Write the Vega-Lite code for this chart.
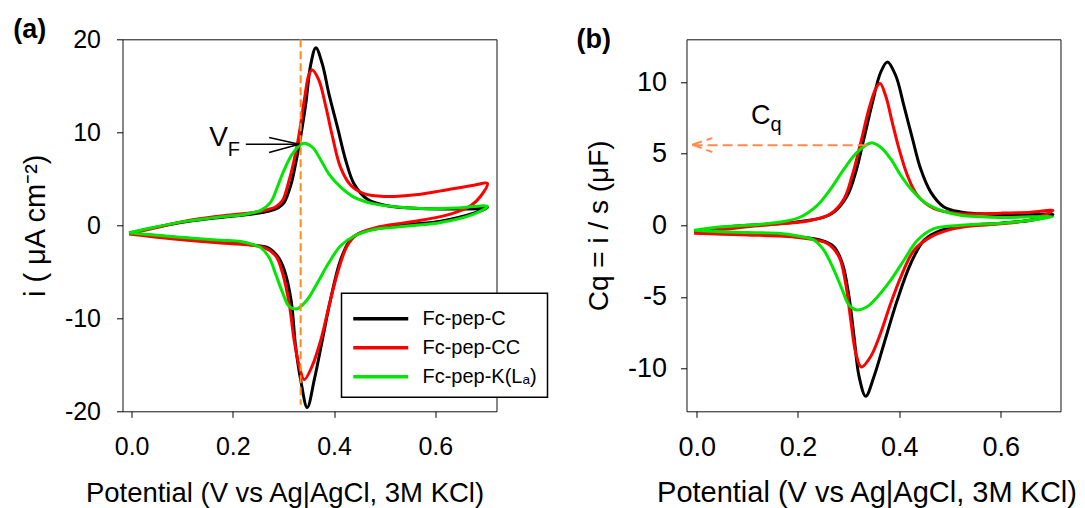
{
  "$schema": "https://vega.github.io/schema/vega-lite/v6.json",
  "background": "white",
  "padding": {"top": 15.3, "left": 12.5, "right": 5, "bottom": 5},
  "config": {
    "view": {"stroke": "#111", "strokeWidth": 1},
    "font": "Liberation Sans",
    "axis": {"domain": false, "grid": false, "tickColor": "black", "tickSize": 6, "tickWidth": 1, "labelColor": "black", "titleColor": "black", "labelFont": "Liberation Sans", "titleFont": "Liberation Sans", "titleFontWeight": "normal", "labelExpr": "replace(datum.label, '−', '-')"}
  },
  "datasets": {
    "a": [
      {"s":"Fc-pep-C","i":0,"x":-0.005,"y":-0.85},{"s":"Fc-pep-C","i":1,"x":0.045,"y":-0.25},{"s":"Fc-pep-C","i":2,"x":0.11,"y":0.4},{"s":"Fc-pep-C","i":3,"x":0.176,"y":0.85},{"s":"Fc-pep-C","i":4,"x":0.236,"y":1.2},{"s":"Fc-pep-C","i":5,"x":0.27,"y":1.5},{"s":"Fc-pep-C","i":6,"x":0.29,"y":1.9},{"s":"Fc-pep-C","i":7,"x":0.301,"y":2.4},{"s":"Fc-pep-C","i":8,"x":0.315,"y":4.4},{"s":"Fc-pep-C","i":9,"x":0.324,"y":6.6},{"s":"Fc-pep-C","i":10,"x":0.334,"y":9.5},{"s":"Fc-pep-C","i":11,"x":0.344,"y":13.0},{"s":"Fc-pep-C","i":12,"x":0.354,"y":17.3},{"s":"Fc-pep-C","i":13,"x":0.364,"y":19.1},{"s":"Fc-pep-C","i":14,"x":0.377,"y":17.3},{"s":"Fc-pep-C","i":15,"x":0.39,"y":14.1},{"s":"Fc-pep-C","i":16,"x":0.407,"y":10.5},{"s":"Fc-pep-C","i":17,"x":0.423,"y":7.0},{"s":"Fc-pep-C","i":18,"x":0.44,"y":4.4},{"s":"Fc-pep-C","i":19,"x":0.466,"y":2.8},{"s":"Fc-pep-C","i":20,"x":0.505,"y":2.1},{"s":"Fc-pep-C","i":21,"x":0.571,"y":1.8},{"s":"Fc-pep-C","i":22,"x":0.64,"y":1.75},{"s":"Fc-pep-C","i":23,"x":0.69,"y":1.8},{"s":"Fc-pep-C","i":24,"x":0.703,"y":1.9},{"s":"Fc-pep-C","i":25,"x":0.676,"y":1.3},{"s":"Fc-pep-C","i":26,"x":0.611,"y":0.45},{"s":"Fc-pep-C","i":27,"x":0.55,"y":0.1},{"s":"Fc-pep-C","i":28,"x":0.512,"y":-0.15},{"s":"Fc-pep-C","i":29,"x":0.475,"y":-0.45},{"s":"Fc-pep-C","i":30,"x":0.453,"y":-0.8},{"s":"Fc-pep-C","i":31,"x":0.433,"y":-1.5},{"s":"Fc-pep-C","i":32,"x":0.413,"y":-3.7},{"s":"Fc-pep-C","i":33,"x":0.393,"y":-8.0},{"s":"Fc-pep-C","i":34,"x":0.377,"y":-12.3},{"s":"Fc-pep-C","i":35,"x":0.361,"y":-16.6},{"s":"Fc-pep-C","i":36,"x":0.347,"y":-19.6},{"s":"Fc-pep-C","i":37,"x":0.334,"y":-16.6},{"s":"Fc-pep-C","i":38,"x":0.324,"y":-13.0},{"s":"Fc-pep-C","i":39,"x":0.315,"y":-8.0},{"s":"Fc-pep-C","i":40,"x":0.301,"y":-4.7},{"s":"Fc-pep-C","i":41,"x":0.288,"y":-3.3},{"s":"Fc-pep-C","i":42,"x":0.269,"y":-2.4},{"s":"Fc-pep-C","i":43,"x":0.236,"y":-2.1},{"s":"Fc-pep-C","i":44,"x":0.176,"y":-1.75},{"s":"Fc-pep-C","i":45,"x":0.11,"y":-1.4},{"s":"Fc-pep-C","i":46,"x":0.045,"y":-1.1},{"s":"Fc-pep-C","i":47,"x":-0.005,"y":-0.85},
      {"s":"Fc-pep-CC","i":0,"x":-0.005,"y":-0.95},{"s":"Fc-pep-CC","i":1,"x":0.045,"y":-0.3},{"s":"Fc-pep-CC","i":2,"x":0.11,"y":0.5},{"s":"Fc-pep-CC","i":3,"x":0.176,"y":1.0},{"s":"Fc-pep-CC","i":4,"x":0.236,"y":1.35},{"s":"Fc-pep-CC","i":5,"x":0.27,"y":1.7},{"s":"Fc-pep-CC","i":6,"x":0.285,"y":2.0},{"s":"Fc-pep-CC","i":7,"x":0.298,"y":2.65},{"s":"Fc-pep-CC","i":8,"x":0.311,"y":4.8},{"s":"Fc-pep-CC","i":9,"x":0.321,"y":7.0},{"s":"Fc-pep-CC","i":10,"x":0.331,"y":9.8},{"s":"Fc-pep-CC","i":11,"x":0.341,"y":13.4},{"s":"Fc-pep-CC","i":12,"x":0.351,"y":16.3},{"s":"Fc-pep-CC","i":13,"x":0.357,"y":16.7},{"s":"Fc-pep-CC","i":14,"x":0.37,"y":15.6},{"s":"Fc-pep-CC","i":15,"x":0.384,"y":12.7},{"s":"Fc-pep-CC","i":16,"x":0.397,"y":9.5},{"s":"Fc-pep-CC","i":17,"x":0.413,"y":6.2},{"s":"Fc-pep-CC","i":18,"x":0.433,"y":4.3},{"s":"Fc-pep-CC","i":19,"x":0.459,"y":3.4},{"s":"Fc-pep-CC","i":20,"x":0.499,"y":3.1},{"s":"Fc-pep-CC","i":21,"x":0.571,"y":3.35},{"s":"Fc-pep-CC","i":22,"x":0.611,"y":3.7},{"s":"Fc-pep-CC","i":23,"x":0.676,"y":4.3},{"s":"Fc-pep-CC","i":24,"x":0.703,"y":4.5},{"s":"Fc-pep-CC","i":25,"x":0.69,"y":3.15},{"s":"Fc-pep-CC","i":26,"x":0.67,"y":2.1},{"s":"Fc-pep-CC","i":27,"x":0.63,"y":1.2},{"s":"Fc-pep-CC","i":28,"x":0.578,"y":0.6},{"s":"Fc-pep-CC","i":29,"x":0.512,"y":0.05},{"s":"Fc-pep-CC","i":30,"x":0.479,"y":-0.3},{"s":"Fc-pep-CC","i":31,"x":0.446,"y":-0.97},{"s":"Fc-pep-CC","i":32,"x":0.426,"y":-2.2},{"s":"Fc-pep-CC","i":33,"x":0.407,"y":-5.1},{"s":"Fc-pep-CC","i":34,"x":0.39,"y":-8.7},{"s":"Fc-pep-CC","i":35,"x":0.374,"y":-12.3},{"s":"Fc-pep-CC","i":36,"x":0.357,"y":-15.1},{"s":"Fc-pep-CC","i":37,"x":0.341,"y":-16.6},{"s":"Fc-pep-CC","i":38,"x":0.331,"y":-15.1},{"s":"Fc-pep-CC","i":39,"x":0.321,"y":-12.3},{"s":"Fc-pep-CC","i":40,"x":0.311,"y":-8.3},{"s":"Fc-pep-CC","i":41,"x":0.298,"y":-5.1},{"s":"Fc-pep-CC","i":42,"x":0.285,"y":-3.3},{"s":"Fc-pep-CC","i":43,"x":0.262,"y":-2.4},{"s":"Fc-pep-CC","i":44,"x":0.216,"y":-2.05},{"s":"Fc-pep-CC","i":45,"x":0.176,"y":-1.9},{"s":"Fc-pep-CC","i":46,"x":0.11,"y":-1.6},{"s":"Fc-pep-CC","i":47,"x":0.045,"y":-1.25},{"s":"Fc-pep-CC","i":48,"x":-0.005,"y":-0.95},
      {"s":"Fc-pep-K(Lₐ)","i":0,"x":-0.005,"y":-0.8},{"s":"Fc-pep-K(Lₐ)","i":1,"x":0.045,"y":-0.2},{"s":"Fc-pep-K(Lₐ)","i":2,"x":0.11,"y":0.45},{"s":"Fc-pep-K(Lₐ)","i":3,"x":0.176,"y":0.9},{"s":"Fc-pep-K(Lₐ)","i":4,"x":0.216,"y":1.1},{"s":"Fc-pep-K(Lₐ)","i":5,"x":0.24,"y":1.35},{"s":"Fc-pep-K(Lₐ)","i":6,"x":0.255,"y":1.6},{"s":"Fc-pep-K(Lₐ)","i":7,"x":0.275,"y":2.5},{"s":"Fc-pep-K(Lₐ)","i":8,"x":0.288,"y":4.1},{"s":"Fc-pep-K(Lₐ)","i":9,"x":0.301,"y":5.9},{"s":"Fc-pep-K(Lₐ)","i":10,"x":0.318,"y":7.7},{"s":"Fc-pep-K(Lₐ)","i":11,"x":0.338,"y":8.8},{"s":"Fc-pep-K(Lₐ)","i":12,"x":0.357,"y":8.4},{"s":"Fc-pep-K(Lₐ)","i":13,"x":0.374,"y":7.0},{"s":"Fc-pep-K(Lₐ)","i":14,"x":0.39,"y":5.5},{"s":"Fc-pep-K(Lₐ)","i":15,"x":0.413,"y":4.1},{"s":"Fc-pep-K(Lₐ)","i":16,"x":0.44,"y":3.0},{"s":"Fc-pep-K(Lₐ)","i":17,"x":0.479,"y":2.3},{"s":"Fc-pep-K(Lₐ)","i":18,"x":0.532,"y":1.94},{"s":"Fc-pep-K(Lₐ)","i":19,"x":0.571,"y":1.8},{"s":"Fc-pep-K(Lₐ)","i":20,"x":0.64,"y":1.85},{"s":"Fc-pep-K(Lₐ)","i":21,"x":0.703,"y":2.05},{"s":"Fc-pep-K(Lₐ)","i":22,"x":0.676,"y":1.2},{"s":"Fc-pep-K(Lₐ)","i":23,"x":0.611,"y":0.3},{"s":"Fc-pep-K(Lₐ)","i":24,"x":0.55,"y":-0.05},{"s":"Fc-pep-K(Lₐ)","i":25,"x":0.512,"y":-0.25},{"s":"Fc-pep-K(Lₐ)","i":26,"x":0.479,"y":-0.45},{"s":"Fc-pep-K(Lₐ)","i":27,"x":0.44,"y":-1.15},{"s":"Fc-pep-K(Lₐ)","i":28,"x":0.413,"y":-2.2},{"s":"Fc-pep-K(Lₐ)","i":29,"x":0.39,"y":-4.0},{"s":"Fc-pep-K(Lₐ)","i":30,"x":0.367,"y":-6.2},{"s":"Fc-pep-K(Lₐ)","i":31,"x":0.347,"y":-8.0},{"s":"Fc-pep-K(Lₐ)","i":32,"x":0.326,"y":-9.0},{"s":"Fc-pep-K(Lₐ)","i":33,"x":0.311,"y":-8.7},{"s":"Fc-pep-K(Lₐ)","i":34,"x":0.298,"y":-7.2},{"s":"Fc-pep-K(Lₐ)","i":35,"x":0.285,"y":-5.3},{"s":"Fc-pep-K(Lₐ)","i":36,"x":0.272,"y":-3.5},{"s":"Fc-pep-K(Lₐ)","i":37,"x":0.255,"y":-2.4},{"s":"Fc-pep-K(Lₐ)","i":38,"x":0.236,"y":-2.0},{"s":"Fc-pep-K(Lₐ)","i":39,"x":0.216,"y":-1.75},{"s":"Fc-pep-K(Lₐ)","i":40,"x":0.176,"y":-1.6},{"s":"Fc-pep-K(Lₐ)","i":41,"x":0.11,"y":-1.35},{"s":"Fc-pep-K(Lₐ)","i":42,"x":0.045,"y":-1.05},{"s":"Fc-pep-K(Lₐ)","i":43,"x":-0.005,"y":-0.8}
    ],
    "b": [
      {"s":"Fc-pep-C","i":0,"x":-0.005,"y":-0.4},{"s":"Fc-pep-C","i":1,"x":0.05,"y":-0.15},{"s":"Fc-pep-C","i":2,"x":0.1,"y":0.0},{"s":"Fc-pep-C","i":3,"x":0.166,"y":0.12},{"s":"Fc-pep-C","i":4,"x":0.212,"y":0.3},{"s":"Fc-pep-C","i":5,"x":0.25,"y":0.55},{"s":"Fc-pep-C","i":6,"x":0.271,"y":0.93},{"s":"Fc-pep-C","i":7,"x":0.2975,"y":2.09},{"s":"Fc-pep-C","i":8,"x":0.314,"y":3.72},{"s":"Fc-pep-C","i":9,"x":0.33,"y":6.04},{"s":"Fc-pep-C","i":10,"x":0.347,"y":8.59},{"s":"Fc-pep-C","i":11,"x":0.363,"y":10.68},{"s":"Fc-pep-C","i":12,"x":0.3765,"y":11.42},{"s":"Fc-pep-C","i":13,"x":0.393,"y":10.45},{"s":"Fc-pep-C","i":14,"x":0.409,"y":8.36},{"s":"Fc-pep-C","i":15,"x":0.426,"y":6.04},{"s":"Fc-pep-C","i":16,"x":0.442,"y":3.95},{"s":"Fc-pep-C","i":17,"x":0.462,"y":2.32},{"s":"Fc-pep-C","i":18,"x":0.488,"y":1.28},{"s":"Fc-pep-C","i":19,"x":0.521,"y":0.93},{"s":"Fc-pep-C","i":20,"x":0.56,"y":0.8},{"s":"Fc-pep-C","i":21,"x":0.63,"y":0.72},{"s":"Fc-pep-C","i":22,"x":0.703,"y":0.75},{"s":"Fc-pep-C","i":23,"x":0.66,"y":0.35},{"s":"Fc-pep-C","i":24,"x":0.6,"y":0.15},{"s":"Fc-pep-C","i":25,"x":0.541,"y":0.0},{"s":"Fc-pep-C","i":26,"x":0.505,"y":-0.2},{"s":"Fc-pep-C","i":27,"x":0.482,"y":-0.35},{"s":"Fc-pep-C","i":28,"x":0.449,"y":-1.04},{"s":"Fc-pep-C","i":29,"x":0.4225,"y":-2.67},{"s":"Fc-pep-C","i":30,"x":0.396,"y":-5.22},{"s":"Fc-pep-C","i":31,"x":0.37,"y":-8.24},{"s":"Fc-pep-C","i":32,"x":0.35,"y":-10.56},{"s":"Fc-pep-C","i":33,"x":0.3337,"y":-11.95},{"s":"Fc-pep-C","i":34,"x":0.3205,"y":-10.56},{"s":"Fc-pep-C","i":35,"x":0.3106,"y":-7.77},{"s":"Fc-pep-C","i":36,"x":0.3007,"y":-4.99},{"s":"Fc-pep-C","i":37,"x":0.2876,"y":-2.67},{"s":"Fc-pep-C","i":38,"x":0.271,"y":-1.5},{"s":"Fc-pep-C","i":39,"x":0.245,"y":-1.04},{"s":"Fc-pep-C","i":40,"x":0.2,"y":-0.8},{"s":"Fc-pep-C","i":41,"x":0.166,"y":-0.7},{"s":"Fc-pep-C","i":42,"x":0.1,"y":-0.6},{"s":"Fc-pep-C","i":43,"x":0.05,"y":-0.55},{"s":"Fc-pep-C","i":44,"x":-0.005,"y":-0.4},
      {"s":"Fc-pep-CC","i":0,"x":-0.005,"y":-0.55},{"s":"Fc-pep-CC","i":1,"x":0.05,"y":-0.3},{"s":"Fc-pep-CC","i":2,"x":0.1,"y":-0.1},{"s":"Fc-pep-CC","i":3,"x":0.166,"y":0.1},{"s":"Fc-pep-CC","i":4,"x":0.21,"y":0.25},{"s":"Fc-pep-CC","i":5,"x":0.232,"y":0.4},{"s":"Fc-pep-CC","i":6,"x":0.2646,"y":0.81},{"s":"Fc-pep-CC","i":7,"x":0.291,"y":1.86},{"s":"Fc-pep-CC","i":8,"x":0.307,"y":3.48},{"s":"Fc-pep-CC","i":9,"x":0.324,"y":5.8},{"s":"Fc-pep-CC","i":10,"x":0.34,"y":8.13},{"s":"Fc-pep-CC","i":11,"x":0.353,"y":9.52},{"s":"Fc-pep-CC","i":12,"x":0.362,"y":9.92},{"s":"Fc-pep-CC","i":13,"x":0.373,"y":9.05},{"s":"Fc-pep-CC","i":14,"x":0.386,"y":7.2},{"s":"Fc-pep-CC","i":15,"x":0.3994,"y":5.34},{"s":"Fc-pep-CC","i":16,"x":0.416,"y":3.48},{"s":"Fc-pep-CC","i":17,"x":0.4357,"y":2.09},{"s":"Fc-pep-CC","i":18,"x":0.4685,"y":1.16},{"s":"Fc-pep-CC","i":19,"x":0.521,"y":0.81},{"s":"Fc-pep-CC","i":20,"x":0.6,"y":0.85},{"s":"Fc-pep-CC","i":21,"x":0.66,"y":0.92},{"s":"Fc-pep-CC","i":22,"x":0.703,"y":1.04},{"s":"Fc-pep-CC","i":23,"x":0.66,"y":0.4},{"s":"Fc-pep-CC","i":24,"x":0.6,"y":0.1},{"s":"Fc-pep-CC","i":25,"x":0.541,"y":-0.05},{"s":"Fc-pep-CC","i":26,"x":0.5,"y":-0.3},{"s":"Fc-pep-CC","i":27,"x":0.462,"y":-0.81},{"s":"Fc-pep-CC","i":28,"x":0.429,"y":-1.74},{"s":"Fc-pep-CC","i":29,"x":0.403,"y":-3.6},{"s":"Fc-pep-CC","i":30,"x":0.383,"y":-5.45},{"s":"Fc-pep-CC","i":31,"x":0.363,"y":-7.54},{"s":"Fc-pep-CC","i":32,"x":0.3435,"y":-9.17},{"s":"Fc-pep-CC","i":33,"x":0.325,"y":-9.91},{"s":"Fc-pep-CC","i":34,"x":0.314,"y":-8.93},{"s":"Fc-pep-CC","i":35,"x":0.304,"y":-6.6},{"s":"Fc-pep-CC","i":36,"x":0.294,"y":-4.06},{"s":"Fc-pep-CC","i":37,"x":0.281,"y":-2.2},{"s":"Fc-pep-CC","i":38,"x":0.258,"y":-1.27},{"s":"Fc-pep-CC","i":39,"x":0.2,"y":-0.85},{"s":"Fc-pep-CC","i":40,"x":0.166,"y":-0.75},{"s":"Fc-pep-CC","i":41,"x":0.1,"y":-0.68},{"s":"Fc-pep-CC","i":42,"x":0.05,"y":-0.62},{"s":"Fc-pep-CC","i":43,"x":-0.005,"y":-0.55},
      {"s":"Fc-pep-K(Lₐ)","i":0,"x":-0.005,"y":-0.35},{"s":"Fc-pep-K(Lₐ)","i":1,"x":0.05,"y":-0.1},{"s":"Fc-pep-K(Lₐ)","i":2,"x":0.1,"y":0.0},{"s":"Fc-pep-K(Lₐ)","i":3,"x":0.166,"y":0.23},{"s":"Fc-pep-K(Lₐ)","i":4,"x":0.205,"y":0.58},{"s":"Fc-pep-K(Lₐ)","i":5,"x":0.238,"y":1.39},{"s":"Fc-pep-K(Lₐ)","i":6,"x":0.2646,"y":2.55},{"s":"Fc-pep-K(Lₐ)","i":7,"x":0.291,"y":3.95},{"s":"Fc-pep-K(Lₐ)","i":8,"x":0.317,"y":5.11},{"s":"Fc-pep-K(Lₐ)","i":9,"x":0.3435,"y":5.76},{"s":"Fc-pep-K(Lₐ)","i":10,"x":0.363,"y":5.46},{"s":"Fc-pep-K(Lₐ)","i":11,"x":0.383,"y":4.64},{"s":"Fc-pep-K(Lₐ)","i":12,"x":0.403,"y":3.48},{"s":"Fc-pep-K(Lₐ)","i":13,"x":0.4225,"y":2.55},{"s":"Fc-pep-K(Lₐ)","i":14,"x":0.449,"y":1.63},{"s":"Fc-pep-K(Lₐ)","i":15,"x":0.482,"y":1.04},{"s":"Fc-pep-K(Lₐ)","i":16,"x":0.521,"y":0.7},{"s":"Fc-pep-K(Lₐ)","i":17,"x":0.6,"y":0.55},{"s":"Fc-pep-K(Lₐ)","i":18,"x":0.703,"y":0.6},{"s":"Fc-pep-K(Lₐ)","i":19,"x":0.66,"y":0.35},{"s":"Fc-pep-K(Lₐ)","i":20,"x":0.6,"y":0.15},{"s":"Fc-pep-K(Lₐ)","i":21,"x":0.541,"y":0.05},{"s":"Fc-pep-K(Lₐ)","i":22,"x":0.521,"y":0.0},{"s":"Fc-pep-K(Lₐ)","i":23,"x":0.4685,"y":-0.23},{"s":"Fc-pep-K(Lₐ)","i":24,"x":0.4357,"y":-1.04},{"s":"Fc-pep-K(Lₐ)","i":25,"x":0.409,"y":-2.44},{"s":"Fc-pep-K(Lₐ)","i":26,"x":0.383,"y":-3.83},{"s":"Fc-pep-K(Lₐ)","i":27,"x":0.357,"y":-4.99},{"s":"Fc-pep-K(Lₐ)","i":28,"x":0.337,"y":-5.68},{"s":"Fc-pep-K(Lₐ)","i":29,"x":0.316,"y":-5.92},{"s":"Fc-pep-K(Lₐ)","i":30,"x":0.3007,"y":-5.57},{"s":"Fc-pep-K(Lₐ)","i":31,"x":0.2876,"y":-4.53},{"s":"Fc-pep-K(Lₐ)","i":32,"x":0.271,"y":-3.13},{"s":"Fc-pep-K(Lₐ)","i":33,"x":0.251,"y":-1.74},{"s":"Fc-pep-K(Lₐ)","i":34,"x":0.232,"y":-1.04},{"s":"Fc-pep-K(Lₐ)","i":35,"x":0.2,"y":-0.75},{"s":"Fc-pep-K(Lₐ)","i":36,"x":0.166,"y":-0.58},{"s":"Fc-pep-K(Lₐ)","i":37,"x":0.1,"y":-0.5},{"s":"Fc-pep-K(Lₐ)","i":38,"x":0.05,"y":-0.45},{"s":"Fc-pep-K(Lₐ)","i":39,"x":-0.005,"y":-0.35}
    ]
  },
  "bounds": "flush",
  "spacing": 190,
  "resolve": {"scale": {"color": "independent"}, "legend": {"color": "independent"}},
  "hconcat": [
    {
      "width": 374, "height": 372,
      "title": {"text": "(a)", "anchor": "start", "frame": "bounds", "fontSize": 27, "fontWeight": "bold", "font": "Liberation Sans", "offset": -17, "dx": -8, "color": "black"},
      "layer": [
        {
          "data": {"name": "a"},
          "mark": {"type": "line", "strokeWidth": 3, "interpolate": "catmull-rom", "clip": true},
          "encoding": {
            "x": {"field": "x", "type": "quantitative", "scale": {"domain": [-0.018, 0.721], "nice": false, "zero": false},
                  "axis": {"title": "Potential (V vs Ag|AgCl, 3M KCl)", "values": [0, 0.2, 0.4, 0.6], "format": ".1f", "labelFontSize": 25, "titleFontSize": 27.5, "labelPadding": 17, "titlePadding": 20, "titleX": 162}},
            "y": {"field": "y", "type": "quantitative", "scale": {"domain": [-20, 20], "nice": false, "zero": false},
                  "axis": {"title": "i ( μA cm⁻²)", "values": [-20, -10, 0, 10, 20], "labelFontSize": 25, "titleFontSize": 29, "labelPadding": 16, "titlePadding": 14}},
            "color": {"field": "s", "type": "nominal",
                      "scale": {"domain": ["Fc-pep-C", "Fc-pep-CC", "Fc-pep-K(Lₐ)"], "range": ["#000000", "#ff0000", "#00e600"]},
                      "legend": {"orient": "none", "legendX": 219, "legendY": 254, "title": null, "symbolType": "M-1,0H3", "symbolSize": 756, "symbolStrokeWidth": 3.5, "labelFontSize": 20, "labelFont": "Liberation Sans", "labelColor": "black", "labelOffset": 40, "rowPadding": 3, "padding": 10, "strokeColor": "black", "fillColor": "white",
                                 "encode": {"legend": {"update": {"strokeWidth": {"value": 1.5}}}}}},
            "order": {"field": "i", "type": "quantitative"}
          }
        },
        {
          "data": {"values": [{"x": 0.334, "y": 20, "y2": -19.3}]},
          "mark": {"type": "rule", "color": "#ff8c1a", "strokeWidth": 2, "strokeDash": [8, 4]},
          "encoding": {"x": {"field": "x", "type": "quantitative"}, "y": {"field": "y", "type": "quantitative"}, "y2": {"field": "y2"}}
        },
        {
          "data": {"values": [{"x": 0.2257, "y": 8.71, "x2": 0.331, "y2": 8.71}, {"x": 0.2717, "y": 9.43, "x2": 0.331, "y2": 8.71}, {"x": 0.2717, "y": 7.82, "x2": 0.331, "y2": 8.71}]},
          "mark": {"type": "rule", "color": "black", "strokeWidth": 1.5},
          "encoding": {"x": {"field": "x", "type": "quantitative"}, "y": {"field": "y", "type": "quantitative"}, "x2": {"field": "x2"}, "y2": {"field": "y2"}}
        },
        {
          "data": {"values": [{"x": 0.1718, "y": 8.53, "t": "V"}]},
          "mark": {"type": "text", "fontSize": 28, "font": "Liberation Sans", "align": "center", "baseline": "alphabetic", "color": "black"},
          "encoding": {"x": {"field": "x", "type": "quantitative"}, "y": {"field": "y", "type": "quantitative"}, "text": {"field": "t"}}
        },
        {
          "data": {"values": [{"x": 0.202, "y": 7.45, "t": "F"}]},
          "mark": {"type": "text", "fontSize": 20, "font": "Liberation Sans", "align": "center", "baseline": "alphabetic", "color": "black"},
          "encoding": {"x": {"field": "x", "type": "quantitative"}, "y": {"field": "y", "type": "quantitative"}, "text": {"field": "t"}}
        }
      ]
    },
    {
      "width": 374, "height": 372,
      "title": {"text": "(b)", "anchor": "start", "frame": "bounds", "fontSize": 27, "fontWeight": "bold", "font": "Liberation Sans", "offset": -15, "dx": -9, "color": "black"},
      "layer": [
        {
          "data": {"name": "b"},
          "mark": {"type": "line", "strokeWidth": 3, "interpolate": "catmull-rom", "clip": true},
          "encoding": {
            "x": {"field": "x", "type": "quantitative", "scale": {"domain": [-0.02, 0.718], "nice": false, "zero": false},
                  "axis": {"title": "Potential (V vs Ag|AgCl, 3M KCl)", "values": [0, 0.2, 0.4, 0.6], "format": ".1f", "labelFontSize": 27, "titleFontSize": 29, "labelPadding": 17, "titlePadding": 18, "titleX": 180}},
            "y": {"field": "y", "type": "quantitative", "scale": {"domain": [-13, 13], "nice": false, "zero": false},
                  "axis": {"title": "Cq = i / s (μF)", "values": [-10, -5, 0, 5, 10], "labelFontSize": 27, "titleFontSize": 28, "labelPadding": 14, "titlePadding": 14}},
            "color": {"field": "s", "type": "nominal",
                      "scale": {"domain": ["Fc-pep-C", "Fc-pep-CC", "Fc-pep-K(Lₐ)"], "range": ["#000000", "#ff0000", "#00e600"]},
                      "legend": null},
            "order": {"field": "i", "type": "quantitative"}
          }
        },
        {
          "data": {"values": [{"x": -0.008, "x2": 0.34, "y": 5.6, "y2": 5.6}, {"x": -0.0085, "y": 5.64, "x2": 0.031, "y2": 6.09}, {"x": -0.0085, "y": 5.64, "x2": 0.031, "y2": 5.11}]},
          "mark": {"type": "rule", "color": "#ff8a4c", "strokeWidth": 2, "strokeDash": [10, 5]},
          "encoding": {"x": {"field": "x", "type": "quantitative"}, "y": {"field": "y", "type": "quantitative"}, "x2": {"field": "x2"}, "y2": {"field": "y2"}}
        },
        {
          "data": {"values": [{"x": 0.1264, "y": 7.08, "t": "C"}]},
          "mark": {"type": "text", "fontSize": 27, "font": "Liberation Sans", "align": "center", "baseline": "alphabetic", "color": "black"},
          "encoding": {"x": {"field": "x", "type": "quantitative"}, "y": {"field": "y", "type": "quantitative"}, "text": {"field": "t"}}
        },
        {
          "data": {"values": [{"x": 0.1566, "y": 6.6, "t": "q"}]},
          "mark": {"type": "text", "fontSize": 20, "font": "Liberation Sans", "align": "center", "baseline": "alphabetic", "color": "black"},
          "encoding": {"x": {"field": "x", "type": "quantitative"}, "y": {"field": "y", "type": "quantitative"}, "text": {"field": "t"}}
        }
      ]
    }
  ]
}
